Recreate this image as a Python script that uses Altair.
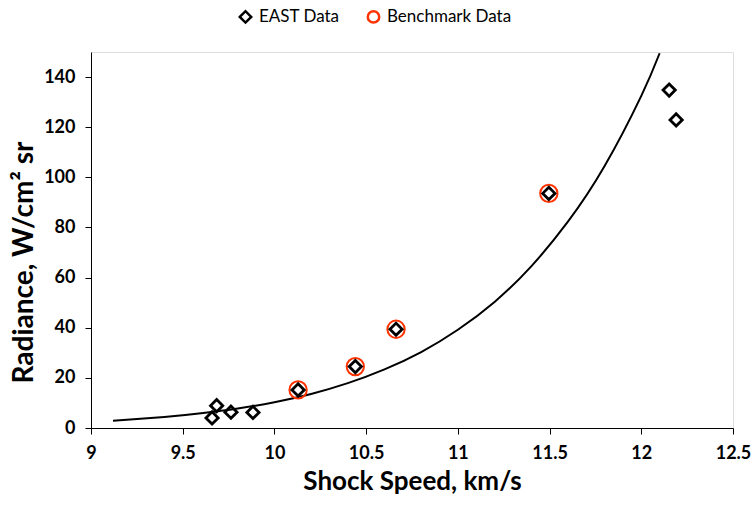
import altair as alt
import pandas as pd

# EAST data (diamonds)
east_x = [9.66, 9.685, 9.763, 9.883, 10.129, 10.441, 10.663, 11.496, 12.152, 12.19]
east_y = [4.0, 8.9, 6.3, 6.2, 15.2, 24.5, 39.4, 93.6, 134.8, 122.9]
# Benchmark data (circles)
bench_x = [10.129, 10.441, 10.663, 11.496]
bench_y = [15.2, 24.5, 39.4, 93.6]
# Trend curve
curve_x = [9.12, 9.4, 9.6, 9.8, 10.0, 10.2, 10.4, 10.6, 10.8, 11.0, 11.2, 11.4, 11.6, 11.8, 12.0, 12.1]
curve_y = [2.9, 4.4, 5.9, 7.8, 10.3, 13.6, 17.9, 23.4, 30.3, 39.2, 50.3, 64.5, 82.3, 104.5, 132.5, 149.5]

x_ticks = [9, 9.5, 10, 10.5, 11, 11.5, 12, 12.5]
y_ticks = [0, 20, 40, 60, 80, 100, 120, 140]
series_names = ["EAST Data", "Benchmark Data"]

east = pd.DataFrame({"x": east_x, "y": east_y, "series": series_names[0]})
bench = pd.DataFrame({"x": bench_x, "y": bench_y, "series": series_names[1]})
curve = pd.DataFrame({"x": curve_x, "y": curve_y})

FONT = "Lato"
xscale = alt.Scale(domain=[9, 12.5], nice=False, zero=False)
yscale = alt.Scale(domain=[0, 150], nice=False)

xenc = alt.X("x:Q", scale=xscale,
             axis=alt.Axis(values=x_ticks, format="~g", title="Shock Speed, km/s", grid=False,
                           tickSize=6, labelPadding=10, titlePadding=6,
                           labelFontSize=18, labelFontWeight="bold",
                           titleFontSize=26, titleFontWeight="bold",
                           labelFont=FONT, titleFont=FONT,
                           domainColor="black", tickColor="black",
                           labelColor="black", titleColor="black",
                           labelFlush=False))
yenc = alt.Y("y:Q", scale=yscale,
             axis=alt.Axis(values=y_ticks, title="Radiance, W/cm²  sr", grid=False,
                           tickSize=6, labelPadding=10,
                           titleX=-59, titleY=210, titleBaseline="alphabetic",
                           titleAlign="center", titleAngle=270,
                           labelFontSize=18, labelFontWeight="bold",
                           titleFontSize=28, titleFontWeight="bold",
                           labelFont=FONT, titleFont=FONT,
                           domainColor="black", tickColor="black",
                           labelColor="black", titleColor="black",
                           labelFlush=False))

color_scale = alt.Scale(domain=series_names, range=["black", "#FF3300"])
shape_scale = alt.Scale(domain=series_names, range=["diamond", "circle"])
legend = alt.Legend(title=None, orient="none", direction="horizontal",
                    legendX=146, legendY=-44, labelFont=FONT, labelFontSize=17,
                    labelColor="black", symbolSize=130, symbolStrokeWidth=2.5,
                    columnPadding=22, labelOffset=5, padding=0)

line = alt.Chart(curve).mark_line(color="black", strokeWidth=2, clip=True,
                                  interpolate="natural").encode(x=xenc, y=yenc)

bench_layer = alt.Chart(bench).mark_point(filled=False, size=300, strokeWidth=2, opacity=1).encode(
    x=xenc, y=yenc,
    color=alt.Color("series:N", scale=color_scale, legend=legend),
    shape=alt.Shape("series:N", scale=shape_scale, legend=legend),
)
east_layer = alt.Chart(east).mark_point(filled=False, size=150, strokeWidth=2.8, opacity=1).encode(
    x=xenc, y=yenc,
    color=alt.Color("series:N", scale=color_scale, legend=legend),
    shape=alt.Shape("series:N", scale=shape_scale, legend=legend),
)

chart = alt.layer(line, bench_layer, east_layer).properties(
    width=642, height=376,
    autosize=alt.AutoSizeParams(type="none"),
    padding={"left": 91, "top": 52, "right": 20, "bottom": 80},
).configure_view(stroke=None).configure(background="white")

chart.save("out.html", embed_options={"renderer": "svg", "actions": False})
